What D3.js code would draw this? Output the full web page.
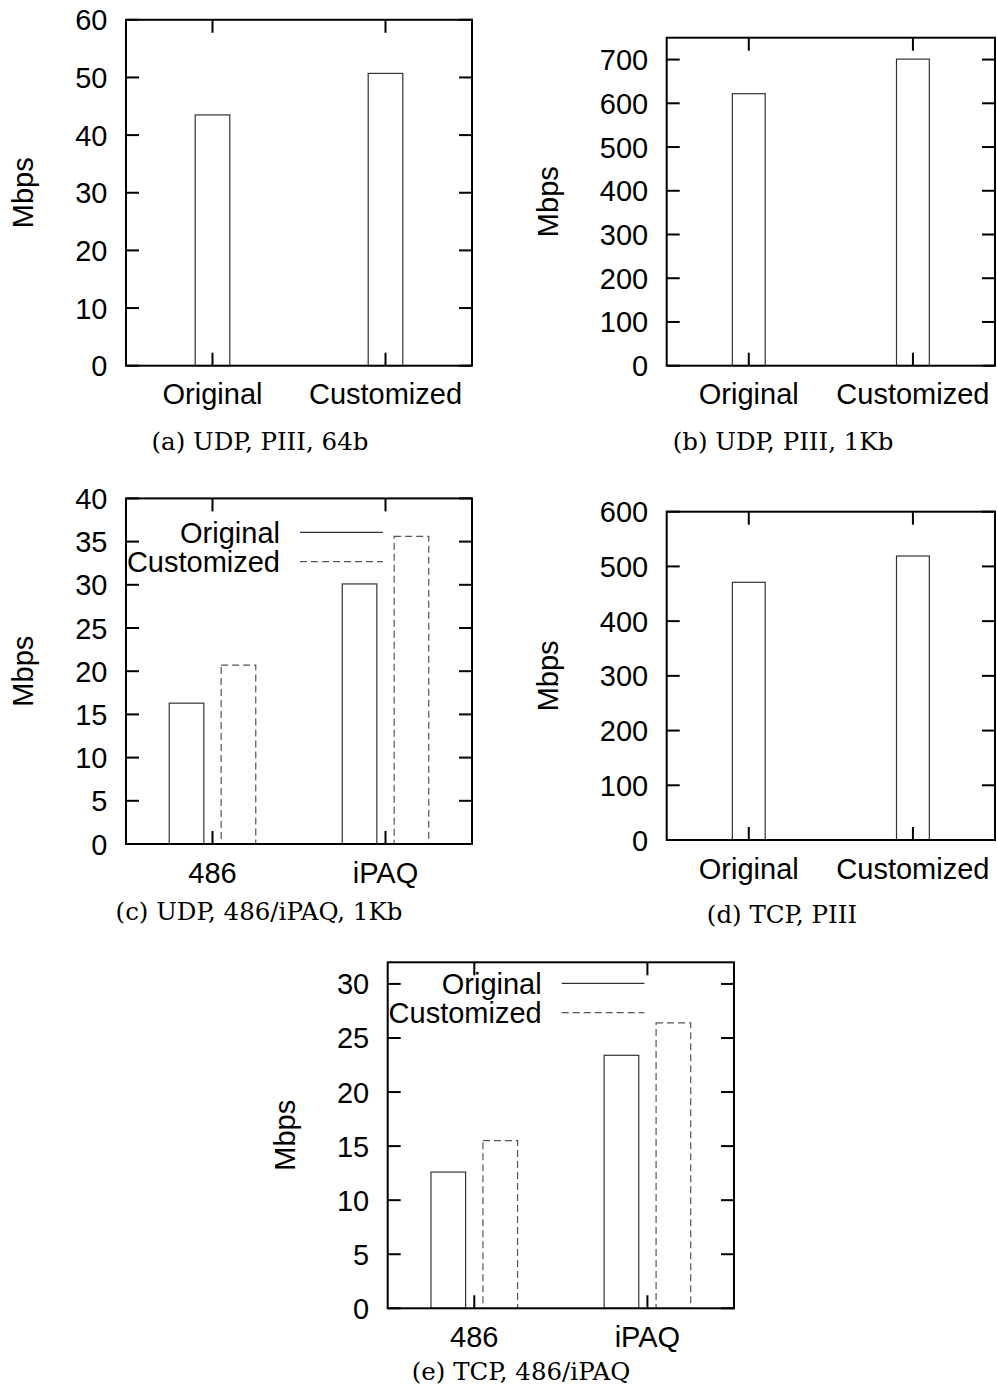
<!DOCTYPE html>
<html>
<head>
<meta charset="utf-8">
<script src="https://cdn.jsdelivr.net/npm/d3@7"></script>
<style>
  body { margin: 0; background: #fff; }
  svg { display: block; }
  .tick-label, .axis-title, .legend-label { font-family: "Liberation Sans", Arial, sans-serif; font-size: 29px; fill: #000; }
  .caption { font-family: "DejaVu Serif", serif; font-size: 24.5px; fill: #000; }
</style>
</head>
<body>
<div id="chart"></div>
<script>
// categories
const platformCats = ["Original", "Customized"];
const deviceCats = ["486", "iPAQ"];
const seriesNames = ["Original", "Customized"];

// values (Mbps)
const udpPIII64 = [43.5, 50.7];
const udpPIII1k = [622, 701];
const tcpPIII = [471, 519];
const udpDevOriginal = [16.3, 30.1];
const udpDevCustomized = [20.7, 35.6];
const tcpDevOriginal = [12.6, 23.4];
const tcpDevCustomized = [15.5, 26.4];

// y tick labels
const ticksA = [0, 10, 20, 30, 40, 50, 60];
const ticksB = [0, 100, 200, 300, 400, 500, 600, 700];
const ticksC = [0, 5, 10, 15, 20, 25, 30, 35, 40];
const ticksD = [0, 100, 200, 300, 400, 500, 600];
const ticksE = [0, 5, 10, 15, 20, 25, 30];

const captions = ["(a) UDP, PIII, 64b", "(b) UDP, PIII, 1Kb", "(c) UDP, 486/iPAQ, 1Kb", "(d) TCP, PIII", "(e) TCP, 486/iPAQ"];

// panel frames (layout only)
const panels = [
    { left: 126, right: 472, top: 19.8, bottom: 365.7, ymax: 60, ticks: ticksA, cats: platformCats, series: [udpPIII64], caption: captions[0], titleOff: 92.7, capX: 260, capY: 450 },
    { left: 666.7, right: 995, top: 37.7, bottom: 365.7, ymax: 750, ticks: ticksB, cats: platformCats, series: [udpPIII1k], caption: captions[1], titleOff: 108.7, capX: 783, capY: 450 },
    { left: 126, right: 472, top: 498.4, bottom: 844, ymax: 40, ticks: ticksC, cats: deviceCats, series: [udpDevOriginal, udpDevCustomized], caption: captions[2], titleOff: 92.7, capX: 259, capY: 920, legendY: 34 },
    { left: 666.7, right: 995, top: 511.7, bottom: 840, ymax: 600, ticks: ticksD, cats: platformCats, series: [tcpPIII], caption: captions[3], titleOff: 108.7, capX: 782, capY: 923 },
    { left: 387.7, right: 734, top: 962.3, bottom: 1308.3, ymax: 32, ticks: ticksE, cats: deviceCats, series: [tcpDevOriginal, tcpDevCustomized], caption: captions[4], titleOff: 92.7, capX: 521, capY: 1380, legendY: 21 }
];

const barStyles = [
    { stroke: "#333", dash: null },
    { stroke: "#555", dash: "7,4" }
];

const svg = d3.select("#chart").append("svg")
    .attr("width", 997)
    .attr("height", 1397);

function drawPanel(p) {
    const g = svg.append("g");
    const x = d3.scaleLinear().domain([-0.5, p.cats.length - 0.5]).range([p.left, p.right]);
    const y = d3.scaleLinear().domain([0, p.ymax]).range([p.bottom, p.top]);
    const tickLen = 13;
    const barW = 0.2;
    const offsets = p.series.length === 1 ? [0] : [-0.15, 0.15];

    // bars
    p.series.forEach((vals, si) => {
        const st = barStyles[si];
        g.selectAll(null)
            .data(vals)
            .enter()
            .append("rect")
            .attr("x", (d, i) => x(i + offsets[si] - barW / 2))
            .attr("y", d => y(d))
            .attr("width", (d, i) => x(i + offsets[si] + barW / 2) - x(i + offsets[si] - barW / 2))
            .attr("height", d => y(0) - y(d))
            .attr("fill", "none")
            .attr("stroke", st.stroke)
            .attr("stroke-width", 1.2)
            .attr("stroke-dasharray", st.dash);
    });

    // y ticks, mirrored on the right
    const yt = g.append("g");
    p.ticks.forEach(t => {
        yt.append("line").attr("x1", p.left).attr("x2", p.left + tickLen).attr("y1", y(t)).attr("y2", y(t));
        yt.append("line").attr("x1", p.right).attr("x2", p.right - tickLen).attr("y1", y(t)).attr("y2", y(t));
        g.append("text")
            .attr("class", "tick-label")
            .attr("x", p.left - 18.5)
            .attr("y", y(t) + 10.5)
            .attr("text-anchor", "end")
            .text(t);
    });
    // x ticks top and bottom
    p.cats.forEach((c, i) => {
        yt.append("line").attr("x1", x(i)).attr("x2", x(i)).attr("y1", p.bottom).attr("y2", p.bottom - tickLen);
        yt.append("line").attr("x1", x(i)).attr("x2", x(i)).attr("y1", p.top).attr("y2", p.top + tickLen);
        g.append("text")
            .attr("class", "tick-label")
            .attr("x", x(i))
            .attr("y", p.bottom + 38.5)
            .attr("text-anchor", "middle")
            .text(c);
    });
    yt.selectAll("line").attr("stroke", "#000").attr("stroke-width", 2);

    // frame
    g.append("rect")
        .attr("x", p.left)
        .attr("y", p.top)
        .attr("width", p.right - p.left)
        .attr("height", p.bottom - p.top)
        .attr("fill", "none")
        .attr("stroke", "#000")
        .attr("stroke-width", 2);

    // y title
    g.append("text")
        .attr("class", "axis-title")
        .attr("transform", `translate(${p.left - p.titleOff},${(p.top + p.bottom) / 2}) rotate(-90)`)
        .attr("text-anchor", "middle")
        .text("Mbps");

    // legend for grouped panels
    if (p.series.length > 1) {
        seriesNames.forEach((name, si) => {
            const ly = p.top + p.legendY + si * 29.3;
            g.append("text")
                .attr("class", "legend-label")
                .attr("x", p.left + 154)
                .attr("y", ly + 10.5)
                .attr("text-anchor", "end")
                .text(name);
            g.append("line")
                .attr("x1", p.left + 174)
                .attr("x2", p.left + 256.7)
                .attr("y1", ly)
                .attr("y2", ly)
                .attr("stroke", barStyles[si].stroke)
                .attr("stroke-width", 1.2)
                .attr("stroke-dasharray", barStyles[si].dash);
        });
    }

    // caption
    svg.append("text")
        .attr("class", "caption")
        .attr("x", p.capX)
        .attr("y", p.capY)
        .attr("text-anchor", "middle")
        .text(p.caption);
}

panels.forEach(drawPanel);
</script>
</body>
</html>
